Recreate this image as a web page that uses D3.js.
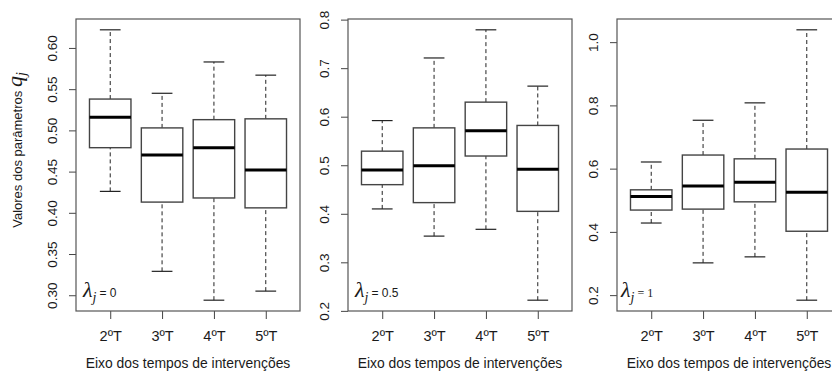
<!DOCTYPE html>
<html>
<head>
<meta charset="utf-8">
<script src="https://cdn.jsdelivr.net/npm/d3@7"></script>
<style>
  body { margin: 0; background: #fff; }
  svg { display: block; font-family: "Liberation Sans", Arial, sans-serif; }
</style>
</head>
<body>
<svg id="chart" width="832" height="372"></svg>
<script>
// categories on the x axis
const categories = ["2ºT", "3ºT", "4ºT", "5ºT"];

// box stats per group: [lower whisker, Q1, median, Q3, upper whisker]
const statsLambda0 = [
  [0.426, 0.479, 0.516, 0.538, 0.622],
  [0.329, 0.413, 0.470, 0.503, 0.545],
  [0.294, 0.418, 0.479, 0.513, 0.583],
  [0.305, 0.406, 0.452, 0.514, 0.567]
];
const statsLambda05 = [
  [0.410, 0.460, 0.490, 0.529, 0.592],
  [0.354, 0.423, 0.499, 0.577, 0.721],
  [0.368, 0.519, 0.571, 0.630, 0.779],
  [0.222, 0.405, 0.492, 0.582, 0.663]
];
const statsLambda1 = [
  [0.428, 0.469, 0.512, 0.533, 0.621],
  [0.302, 0.472, 0.545, 0.643, 0.753],
  [0.321, 0.495, 0.557, 0.631, 0.808],
  [0.184, 0.402, 0.525, 0.662, 1.039]
];

// y tick values per panel
const yTicks0 = [0.30, 0.35, 0.40, 0.45, 0.50, 0.55, 0.60];
const yTicks05 = [0.2, 0.3, 0.4, 0.5, 0.6, 0.7, 0.8];
const yTicks1 = [0.2, 0.4, 0.6, 0.8, 1.0];

const lambdaLabels = ["0", "0.5", "1"];
const xTitle = "Eixo dos tempos de intervenções";

const svg = d3.select("#chart");
const plotTop = 19, plotBottom = 311, plotW = 224;
const lineColor = "#444";
const textColor = "#1a1a1a";
const sans = "'Liberation Sans', Arial, sans-serif";
const serif = "'Liberation Serif', 'Times New Roman', serif";

const panels = [
  { left: 76, stats: statsLambda0, ticks: yTicks0, fmt: d3.format(".2f"), lam: lambdaLabels[0], lamFont: sans },
  { left: 348, stats: statsLambda05, ticks: yTicks05, fmt: d3.format(".1f"), lam: lambdaLabels[1], lamFont: sans },
  { left: 617, stats: statsLambda1, ticks: yTicks1, fmt: d3.format(".1f"), lam: lambdaLabels[2], lamFont: serif }
];

panels.forEach((p) => {
  const g = svg.append("g");
  const lo = d3.min(p.stats, (d) => d[0]);
  const hi = d3.max(p.stats, (d) => d[4]);
  const pad = (hi - lo) * 0.04;
  const y = d3.scaleLinear().domain([lo - pad, hi + pad]).range([plotBottom, plotTop]);
  const x = d3.scaleLinear().domain([0.34, 4.66]).range([p.left, p.left + plotW]);
  const unit = x(2) - x(1);
  const boxW = unit * 0.8;

  // y axis
  const yAxis = g.append("g")
    .attr("transform", `translate(${p.left},0)`)
    .call(d3.axisLeft(y).tickValues(p.ticks).tickFormat(p.fmt).tickSize(7).tickSizeOuter(0));
  yAxis.select(".domain").remove();
  yAxis.selectAll("line").attr("stroke", lineColor);
  yAxis.selectAll("text")
    .attr("x", 0).attr("y", 0)
    .attr("dx", null).attr("dy", "0.35em")
    .attr("text-anchor", "middle")
    .attr("fill", textColor)
    .style("font-size", "13.5px")
    .style("font-family", sans)
    .attr("transform", "translate(-24,0) rotate(-90)");

  // x axis
  const xAxis = g.append("g")
    .attr("transform", `translate(0,${plotBottom})`)
    .call(d3.axisBottom(x).tickValues([1, 2, 3, 4]).tickFormat((d) => categories[d - 1]).tickSize(8).tickSizeOuter(0));
  xAxis.select(".domain").remove();
  xAxis.selectAll("line").attr("stroke", lineColor);
  xAxis.selectAll("text")
    .attr("y", 20)
    .attr("fill", textColor)
    .style("font-size", "14.5px")
    .style("font-family", sans);

  // x title
  g.append("text")
    .attr("x", p.left + plotW / 2)
    .attr("y", 368)
    .attr("text-anchor", "middle")
    .attr("fill", textColor)
    .style("font-family", sans)
    .style("font-size", "13.9px")
    .text(xTitle);

  // boxes
  const box = g.selectAll(".box").data(p.stats).join("g").attr("class", "box");
  box.append("line")
    .attr("x1", (d, i) => x(i + 1)).attr("x2", (d, i) => x(i + 1))
    .attr("y1", (d) => y(d[3])).attr("y2", (d) => y(d[4]))
    .attr("stroke", "#222").attr("stroke-dasharray", "4,3");
  box.append("line")
    .attr("x1", (d, i) => x(i + 1)).attr("x2", (d, i) => x(i + 1))
    .attr("y1", (d) => y(d[0])).attr("y2", (d) => y(d[1]))
    .attr("stroke", "#222").attr("stroke-dasharray", "4,3");
  [0, 4].forEach((k) => {
    box.append("line")
      .attr("x1", (d, i) => x(i + 1) - boxW / 4).attr("x2", (d, i) => x(i + 1) + boxW / 4)
      .attr("y1", (d) => y(d[k])).attr("y2", (d) => y(d[k]))
      .attr("stroke", "#222").attr("stroke-width", 1.2);
  });
  box.append("rect")
    .attr("x", (d, i) => x(i + 1) - boxW / 2)
    .attr("width", boxW)
    .attr("y", (d) => y(d[3]))
    .attr("height", (d) => y(d[1]) - y(d[3]))
    .attr("fill", "#fff")
    .attr("stroke", lineColor)
    .attr("stroke-width", 1.4);
  box.append("line")
    .attr("x1", (d, i) => x(i + 1) - boxW / 2).attr("x2", (d, i) => x(i + 1) + boxW / 2)
    .attr("y1", (d) => y(d[2])).attr("y2", (d) => y(d[2]))
    .attr("stroke", "#000").attr("stroke-width", 3);

  // plot frame
  g.append("rect")
    .attr("x", p.left).attr("y", plotTop)
    .attr("width", plotW).attr("height", plotBottom - plotTop)
    .attr("fill", "none").attr("stroke", "#555").attr("stroke-width", 1.2);

  // lambda annotation
  const lam = g.append("text")
    .attr("x", p.left + (p.left > 600 ? 4 : 7))
    .attr("y", 297)
    .attr("fill", textColor);
  lam.append("tspan")
    .style("font-family", serif)
    .style("font-style", "italic")
    .style("font-size", "22px")
    .text("λ");
  lam.append("tspan")
    .attr("dy", 5)
    .style("font-family", serif)
    .style("font-style", "italic")
    .style("font-size", "14px")
    .text("j");
  lam.append("tspan")
    .attr("dy", -5)
    .attr("dx", 3)
    .style("font-family", p.lamFont)
    .style("font-size", "12px")
    .text("= " + p.lam);
});

// y title
const yTitle = svg.append("text")
  .attr("transform", "translate(22,150) rotate(-90)")
  .attr("text-anchor", "middle")
  .attr("fill", textColor)
  .style("font-family", sans)
  .style("font-size", "13px");
yTitle.append("tspan").text("Valores dos parâmetros ");
yTitle.append("tspan")
  .style("font-family", serif)
  .style("font-style", "italic")
  .style("font-size", "22px")
  .text("q");
yTitle.append("tspan")
  .attr("dy", 4)
  .style("font-family", serif)
  .style("font-style", "italic")
  .style("font-size", "14px")
  .text("j");
</script>
</body>
</html>
